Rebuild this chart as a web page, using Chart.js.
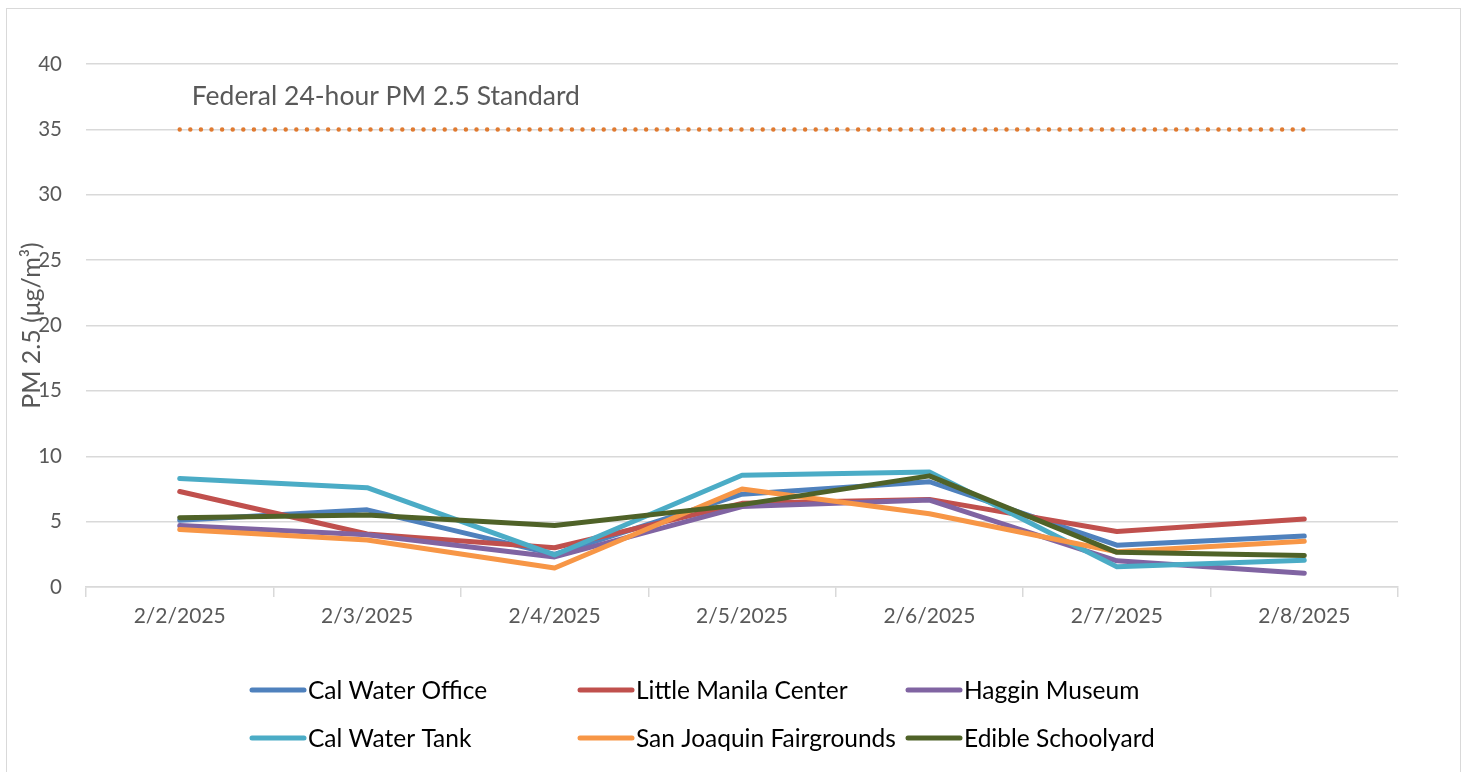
<!DOCTYPE html>
<html><head><meta charset="utf-8">
<script src="https://cdn.jsdelivr.net/npm/chart.js@4/dist/chart.umd.min.js"></script>
<style>
html,body{margin:0;padding:0;background:#fff;}
#wrap{position:absolute;left:0;top:0;width:1465px;height:772px;}
#frame{position:absolute;left:6px;top:8px;width:1453px;height:780px;border:1px solid #d9d9d9;pointer-events:none;}
</style></head>
<body>
<div id="wrap"><canvas id="c" width="1465" height="772"></canvas></div>
<div id="frame"></div>
<script>
const categories = ["2/2/2025","2/3/2025","2/4/2025","2/5/2025","2/6/2025","2/7/2025","2/8/2025"];
const calWaterOffice = [5.1, 5.9, 2.5, 7.1, 8.05, 3.2, 3.9];
const littleManila = [7.3, 4.05, 3.0, 6.4, 6.7, 4.25, 5.2];
const hagginMuseum = [4.7, 4.0, 2.3, 6.15, 6.65, 2.0, 1.05];
const calWaterTank = [8.3, 7.6, 2.45, 8.55, 8.8, 1.55, 2.05];
const sanJoaquin = [4.4, 3.6, 1.45, 7.5, 5.6, 2.7, 3.5];
const edibleSchoolyard = [5.3, 5.5, 4.7, 6.3, 8.5, 2.65, 2.4];
const federalStandard = [35, 35, 35, 35, 35, 35, 35];
const seriesNames = ["Cal Water Office","Little Manila Center","Haggin Museum","Cal Water Tank","San Joaquin Fairgrounds","Edible Schoolyard"];
const seriesColors = ["#4F81BD","#C0504D","#8064A2","#4BACC6","#F79646","#4F6228"];
const seriesData = [calWaterOffice, littleManila, hagginMuseum, calWaterTank, sanJoaquin, edibleSchoolyard];
const yTicks = [0,5,10,15,20,25,30,35,40];
const standardLabel = "Federal 24-hour PM 2.5 Standard";
const FONT = "Lato, 'Open Sans', sans-serif";

const datasets = seriesData.map((d,i)=>({
  label: seriesNames[i], data: d, borderColor: seriesColors[i], backgroundColor: seriesColors[i],
  borderWidth: 5, pointRadius: 0, tension: 0, borderJoinStyle: 'round', borderCapStyle: 'round',
  order: seriesData.length - i
}));
datasets.push({
  label: "standard", data: federalStandard, borderColor: "#E07A30", borderWidth: 4.5,
  borderDash: [0, 10.6], borderCapStyle: 'round', pointRadius: 0, order: 10
});

const extras = {
  id: 'extras',
  afterDraw(chart){
    const ctx = chart.ctx, xs = chart.scales.x, ys = chart.scales.y;
    ctx.save();
    ctx.font = "26.5px " + FONT;
    ctx.fillStyle = "#595959";
    ctx.textBaseline = "middle";
    ctx.textAlign = "left";
    ctx.fillText(standardLabel, xs.getPixelForValue(0) + 12, ys.getPixelForValue(37.5));
    // legend
    const colX = [250, 578, 906];
    const rowY = [690, 738];
    ctx.font = "24.5px " + FONT;
    ctx.fillStyle = "#000";
    seriesNames.forEach((n,i)=>{
      const x = colX[i%3], y = rowY[Math.floor(i/3)];
      ctx.strokeStyle = seriesColors[i];
      ctx.lineWidth = 5; ctx.lineCap = 'round';
      ctx.beginPath(); ctx.moveTo(x+2, y); ctx.lineTo(x+54, y); ctx.stroke();
      ctx.fillText(n, x + 58, y + 1);
    });
    ctx.restore();
  }
};

new Chart(document.getElementById('c'), {
  type: 'line',
  data: { labels: categories, datasets },
  options: {
    responsive: false, animation: false,
    layout: { padding: { left: 6, right: 67, top: 64, bottom: 125 } },
    plugins: { legend: { display: false }, tooltip: { enabled: false } },
    scales: {
      x: {
        offset: true,
        grid: { display: true, drawOnChartArea: false, drawTicks: true, tickLength: 10, offset: true, color: '#d9d9d9', lineWidth: 1.5 },
        border: { display: true, color: '#d9d9d9', width: 1.5 },
        ticks: { color: '#595959', font: { family: FONT, size: 21 }, padding: 7, maxRotation: 0 },
        afterFit(s){ s.height = 60; }
      },
      y: {
        min: 0, max: 40,
        afterBuildTicks(s){ s.ticks = yTicks.map(v=>({value:v})); },
        grid: { color: '#d9d9d9', lineWidth: 1.5, drawTicks: false },
        border: { display: false },
        ticks: { color: '#595959', font: { family: FONT, size: 20.5 }, padding: 24 },
        title: { display: true, text: 'PM 2.5 (μg/m³)', color: '#595959', font: { family: FONT, size: 25 }, padding: { top: 11, bottom: 0 } },
        afterFit(s){ s.width = 80; }
      }
    }
  },
  plugins: [extras]
});
</script>
</body></html>
